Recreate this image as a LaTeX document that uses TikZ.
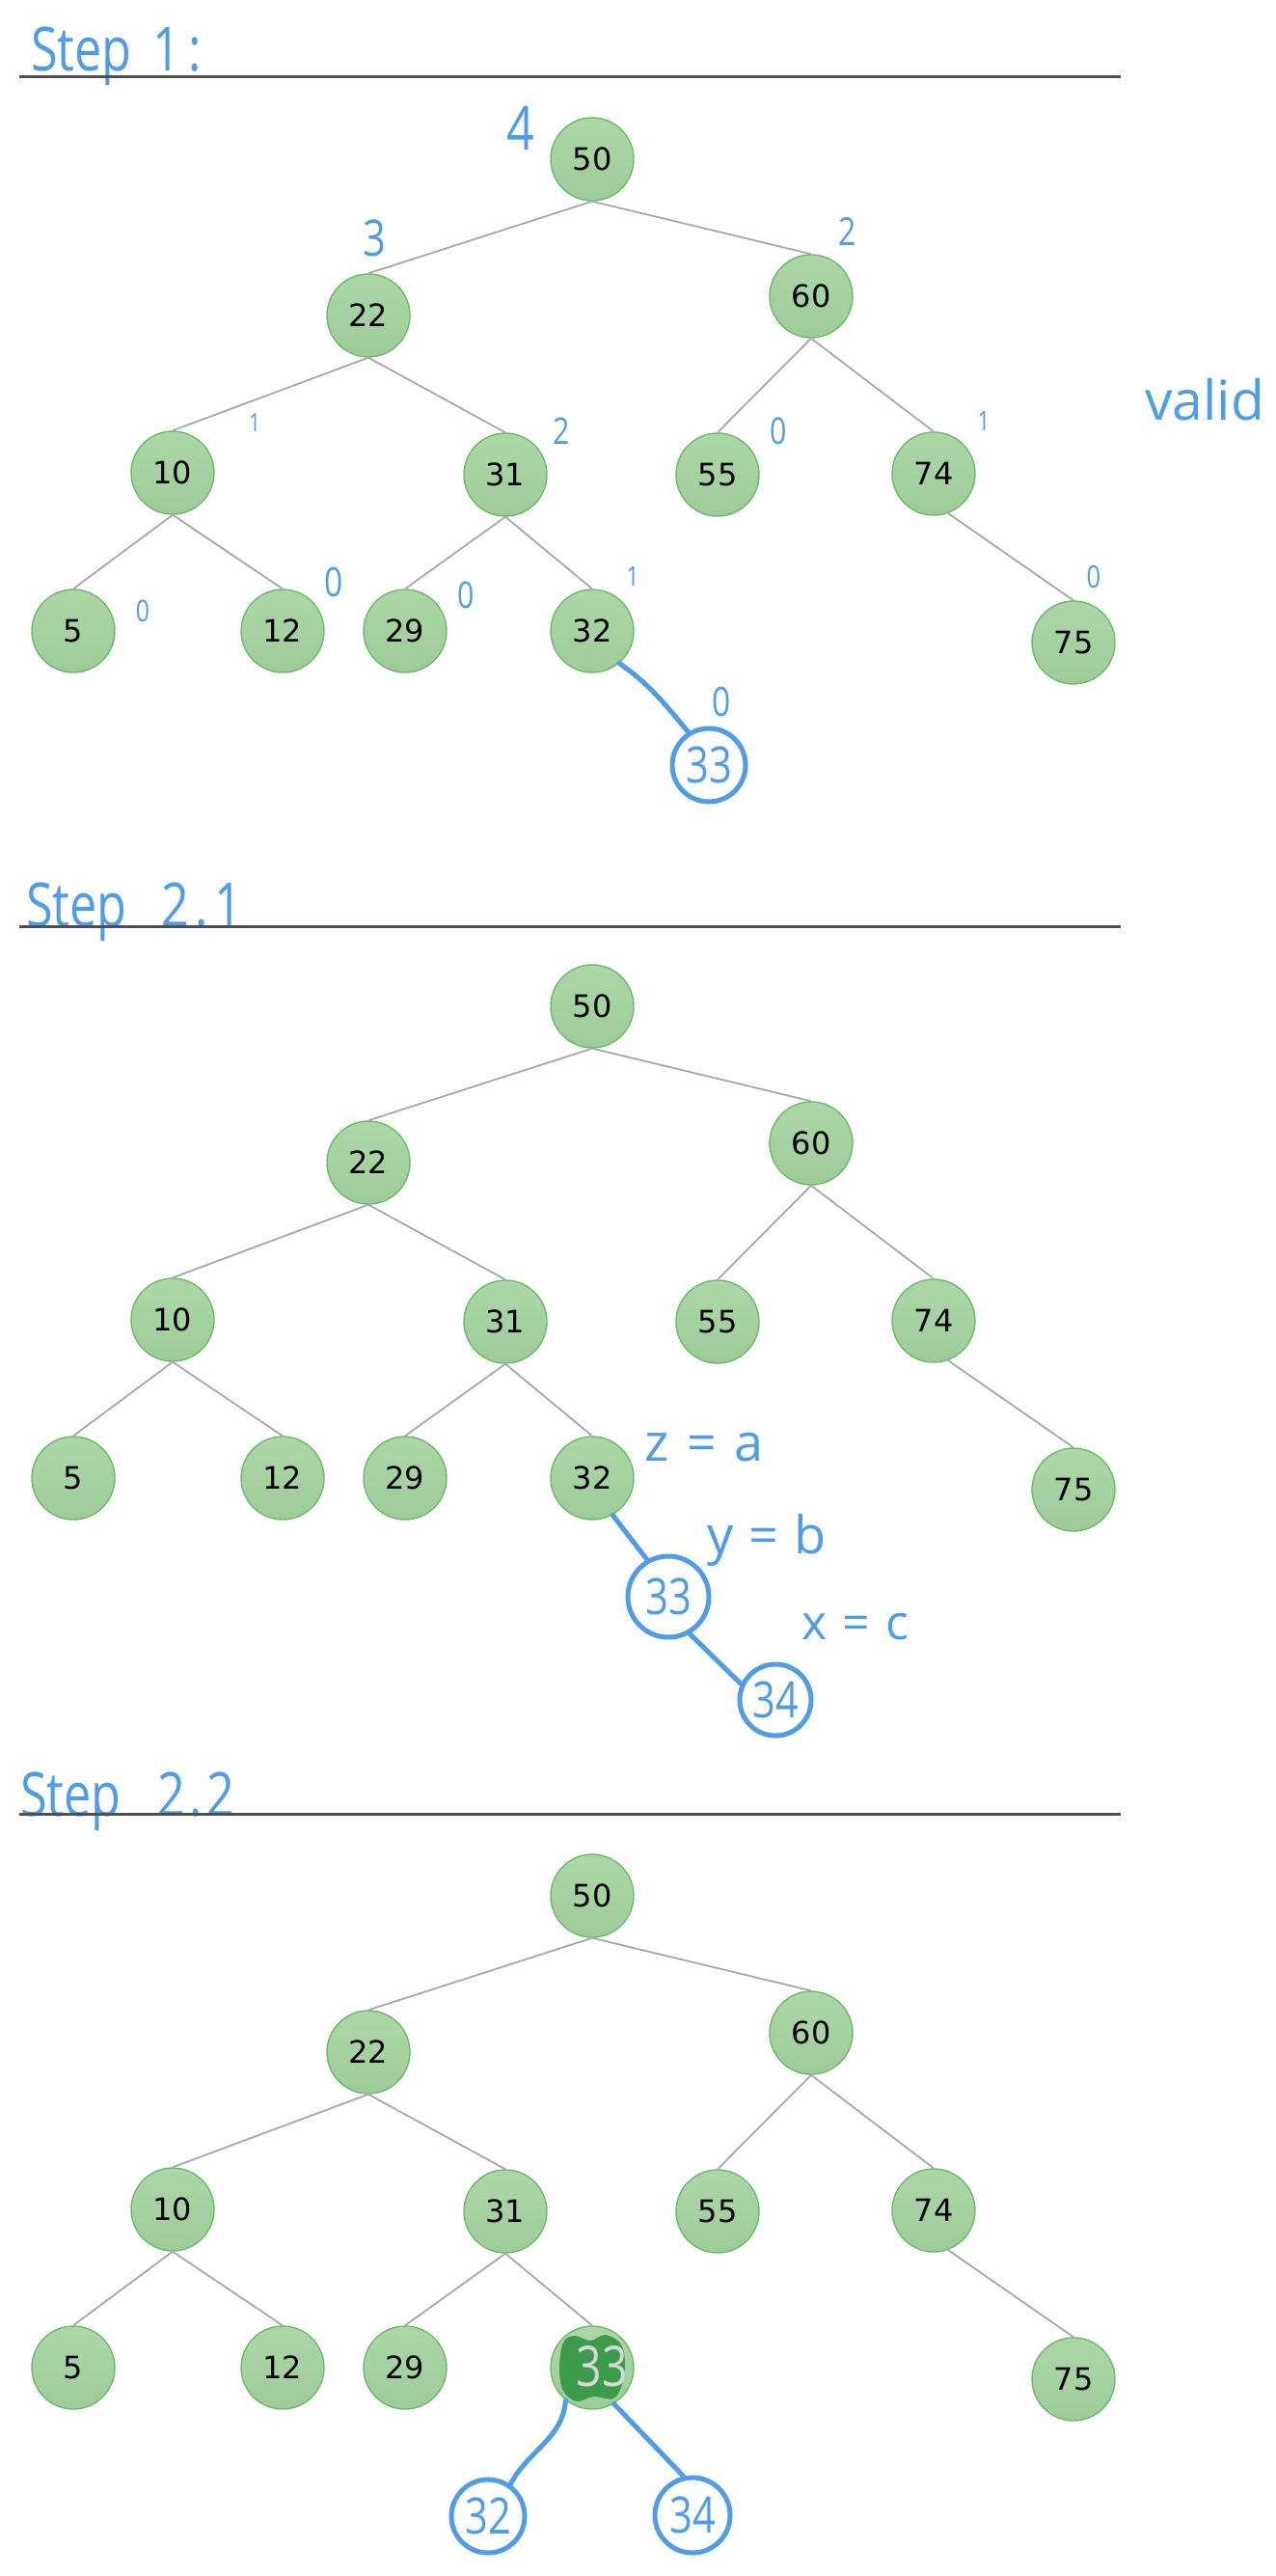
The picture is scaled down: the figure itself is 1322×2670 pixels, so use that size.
\documentclass[tikz,border=0pt]{standalone}
\usepackage{fontspec}
\setmainfont{DejaVu Sans}
\newfontfamily\handfont[FakeStretch=0.8]{Open Sans}
\newfontfamily\handwide{Open Sans}

\definecolor{nodetop}{HTML}{ACD8A8}
\definecolor{nodebot}{HTML}{9ECB99}
\definecolor{nodeedge}{HTML}{6DBB6A}
\definecolor{edgegray}{HTML}{A8A8A8}
\definecolor{inkblue}{HTML}{4F9DE8}
\definecolor{rulegray}{HTML}{505050}
\definecolor{scribble}{HTML}{3C9A4B}
\definecolor{chalk}{HTML}{D6D6D6}

% one binary search tree; #1 name prefix, #2 vertical offset, #3 text of the lower-right node
\newcommand\bsttree[3]{%
\begin{scope}[yshift=-#2pt]
  \node[bst] (#1-50) at (614,165) {50};
  \node[bst] (#1-22) at (382,327) {22};
  \node[bst] (#1-60) at (841,307) {60};
  \node[bst] (#1-10) at (179,490) {10};
  \node[bst] (#1-31) at (524,492) {31};
  \node[bst] (#1-55) at (744,492) {55};
  \node[bst] (#1-74) at (968,491) {74};
  \node[bst] (#1-5)  at (76,654)  {5};
  \node[bst] (#1-12) at (293,654) {12};
  \node[bst] (#1-29) at (420,654) {29};
  \node[bst] (#1-32) at (614,654) {#3};
  \node[bst] (#1-75) at (1113,666) {75};
  \draw[branch] (#1-50.south) -- (#1-22.north);
  \draw[branch] (#1-50.south) -- (#1-60.north);
  \draw[branch] (#1-22.south) -- (#1-10.north);
  \draw[branch] (#1-22.south) -- (#1-31.north);
  \draw[branch] (#1-60.south) -- (#1-55.north);
  \draw[branch] (#1-60.south) -- (#1-74.north);
  \draw[branch] (#1-10.south) -- (#1-5.north);
  \draw[branch] (#1-10.south) -- (#1-12.north);
  \draw[branch] (#1-31.south) -- (#1-29.north);
  \draw[branch] (#1-31.south) -- (#1-32.north);
  \draw[branch] (#1-74.-70) -- (#1-75.north);
\end{scope}}

\begin{document}
\begin{tikzpicture}[x=1pt,y=-1pt,
  bst/.style={circle, minimum size=86pt, inner sep=0pt, draw=nodeedge,
    line width=1.4pt, top color=nodetop, bottom color=nodebot,
    text=black, font=\fontsize{32}{32}\selectfont},
  branch/.style={draw=edgegray, line width=1.8pt},
  rulebar/.style={draw=rulegray, line width=3pt},
  ink/.style={text=inkblue, inner sep=0pt, font=\handfont\fontsize{#1}{#1}\selectfont},
  inkwide/.style={text=inkblue, inner sep=0pt, font=\handwide\fontsize{#1}{#1}\selectfont},
  handnode/.style={circle, draw=inkblue, line width=5pt, minimum size=#1,
    inner sep=0pt, text=inkblue, font=\handfont\fontsize{52}{52}\selectfont},
  handline/.style={draw=inkblue, line width=5pt, line cap=round}]

\fill[white] (0,0) rectangle (1322,2670);
\useasboundingbox (0,0) rectangle (1322,2670);
\clip (0,0) rectangle (1322,2670);

% ---------- Step 1 ----------
\node[ink=63, anchor=base west] (t1) at (32,74) {Step\hspace{22pt}1\hspace{8pt}:};
\draw[rulebar] (20,80) -- (1162,80);
\bsttree{a}{0}{32}
\node[handnode=76pt] (a-33) at (735,793) {33};
\draw[handline] (a-32.-50) to[out=-35,in=130] (a-33.122);

\node[ink=63] (ha4) at (540,133) {4};
\node[ink=52] (ha3) at (388,247) {3};
\node[ink=40] (ha60) at (879,240) {2};
\node[ink=26] (ha10) at (264,438) {1};
\node[ink=38] (ha31) at (582,447) {2};
\node[ink=38] (ha55) at (807,447) {0};
\node[ink=28] (ha74) at (1020,437) {1};
\node[ink=31] (ha5) at (148,633) {0};
\node[ink=42] (ha12) at (346,603) {0};
\node[ink=38] (ha29) at (483,617) {0};
\node[ink=28] (ha32) at (656,598) {1};
\node[ink=32] (ha75) at (1134,598) {0};
\node[ink=42] (ha33) at (748,727) {0};
\node[inkwide=57, anchor=west] (valid) at (1187,414) {valid};

% ---------- Step 2.1 ----------
\node[ink=63, anchor=base west] (t21) at (27,960) {Step\hspace{36pt}2\hspace{6pt}.\hspace{6pt}1};
\draw[rulebar] (20,960) -- (1162,960);
\bsttree{b}{878}{32}
\node[handnode=84pt] (b-33) at (693,1655) {33};
\node[handnode=74pt] (b-34) at (804,1762) {34};
\draw[handline] (b-32.-61) -- (b-33.120);
\draw[handline] (b-33.-60) -- (b-34.155);
\node[inkwide=54] (bz) at (730,1500) {z\hspace{18pt}=\hspace{18pt}a};
\node[inkwide=54] (by) at (795,1596) {y\hspace{16pt}=\hspace{16pt}b};
\node[inkwide=50] (bx) at (887,1686) {x\hspace{16pt}=\hspace{16pt}c};

% ---------- Step 2.2 ----------
\node[ink=63, anchor=base west] (t22) at (21,1882) {Step\hspace{38pt}2\hspace{4pt}.\hspace{4pt}2};
\draw[rulebar] (20,1880) -- (1162,1880);
\bsttree{c}{1800}{}
\fill[scribble] plot[smooth cycle, tension=0.6] coordinates {(584,2428) (596,2421) (612,2426)
  (628,2420) (644,2430) (648,2450) (645,2471) (636,2486) (615,2484) (598,2489) (584,2478) (580,2455)};
\node[text=chalk, inner sep=0pt, font=\handfont\fontsize{58}{58}\selectfont] (c-33) at (624,2453) {33};
\node[handnode=76pt] (c-32b) at (506,2608) {32};
\node[handnode=78pt] (c-34) at (718,2607) {34};
\draw[handline] (c-32.-129) to[out=-95,in=62] (c-32b.55);
\draw[handline] (c-32.-59) -- (c-34.103);

\end{tikzpicture}
\end{document}
